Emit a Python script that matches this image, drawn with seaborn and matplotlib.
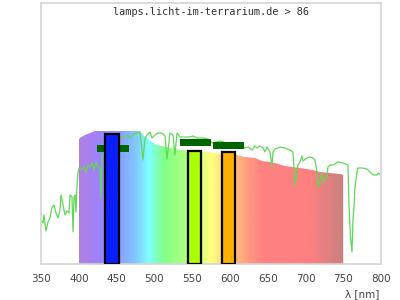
import numpy as np
import pandas as pd
import matplotlib
matplotlib.use("Agg")
import matplotlib.pyplot as plt
from matplotlib.colors import LinearSegmentedColormap
from matplotlib.patches import Polygon
import seaborn as sns

# ---- data ----
sun_nm = [350, 352.6, 354, 356.6, 359.3, 361.9, 364.6, 367.2, 369.9, 372.5, 375.1, 376.5,
          379.1, 381.8, 384.4, 387.1, 388.4, 391, 392.4, 393.7, 395, 396.3, 397.6, 399,
          400.3, 402.9, 406.9, 409.6, 412.2, 414.9, 417.5, 420.1, 422.8, 425.4, 428.1,
          429.4, 430.7, 440, 450, 455.9, 459.8, 463.8, 467.8, 471.8, 477, 481, 485,
          487.6, 490.3, 494.3, 496.9, 500.9, 504.8, 510.1, 514.1, 516.8, 520.7, 524.7,
          527.3, 530, 534, 537.9, 543.2, 547.2, 551.2, 556.5, 560.4, 564.4, 571, 573.7,
          577.6, 586.9, 600.1, 617.3, 620, 624, 629.3, 633.2, 635.9, 639.8, 643.8, 646.5,
          649.1, 653.1, 655.7, 657, 659.7, 663.7, 666.3, 672.9, 679.5, 683.5, 686.2,
          688.8, 690.1, 692.8, 695.4, 696.7, 702, 706, 710, 712.6, 715.3, 716.6, 719.2,
          721.9, 723.2, 725.9, 728.5, 729.8, 732.5, 736.5, 743.1, 749.7, 756.3, 757.6,
          759.6, 761.6, 762.9, 764.2, 765.6, 768.2, 769.5, 774.8, 781.4, 785.4, 789.4,
          794.7, 796, 798.7]
sun_val = [44, 41, 49, 33, 42, 46, 57, 59, 51, 46, 54, 69,
           59, 49, 53, 51, 69, 67, 32, 67, 69, 52, 77, 91,
           96, 94, 97, 92, 99, 97, 101, 94, 102, 97, 96,
           66, 109, 115, 120, 127, 126, 129, 126, 129, 131, 132, 104,
           125, 129, 132, 126, 129, 131, 131, 128, 105, 131, 129,
           109, 131, 127, 127, 127, 127, 128, 126, 126, 126, 125, 123,
           121, 123, 120, 117, 116, 117, 114, 118, 116, 118, 116, 112,
           117, 112, 97, 112, 115, 116, 117, 116, 114, 112, 79,
           92, 99, 102, 108, 103, 106, 107, 106, 104, 92, 77, 84,
           91, 81, 86, 87, 97, 99, 99, 102, 101, 99, 59,
           27, 12, 44, 57, 77, 92, 96, 96, 95, 92, 89,
           89, 91, 90]

lamp_nm = [400, 401.6, 408.2, 414.9, 421.5, 481, 485, 490.3, 494.3, 498.2, 507.5,
           516.8, 520.7, 534, 560.4, 580.3, 609.4, 620, 633.2, 642.5, 653, 659.7,
           672.9, 692.8, 710, 719.2, 732.5, 745.7, 750]
lamp_val = [124, 126, 129, 131, 133, 133, 129, 126, 124, 121, 118,
            117, 116, 114, 113, 111, 109, 107, 106, 103, 102, 101,
            98, 96, 94, 92, 91, 90, 89]

band_left = [434.7, 544.2, 589.2]
band_right = [453.2, 562.2, 607.2]
band_value = [130, 113.3, 112.3]
band_colors = ["#0a1eff", "#aaff00", "#ffb000"]

mark_left = [423.7, 534.0, 577.6]
mark_right = [466.4, 574.5, 618.3]
mark_level = [115.7, 121.7, 118.7]

xticks = [350, 400, 450, 500, 550, 600, 650, 700, 750, 800]
title = "lamps.licht-im-terrarium.de > 86"
xlabel = "λ [nm]"

# ---- plot ----
sns.set_style("white")
plt.rcParams['font.family'] = ['DejaVu Sans']
fig = plt.figure(figsize=(4, 3), dpi=100)
ax = fig.add_axes([41/400, 36/300, 340/400, 261/300])
ax.set_xlim(350, 800)
ax.set_ylim(0, 261)

# spectral gradient fill clipped to lamp curve
stops = [(400, "#b080e0"), (425, "#a080ff"), (450, "#8c98ff"), (475, "#80c8ff"),
         (492, "#80ffff"), (512, "#80ff88"), (545, "#b4ff80"), (575, "#ffff80"),
         (600, "#ffc880"), (625, "#ff9880"), (645, "#ff8080"), (705, "#ff8080"),
         (750, "#c88080")]
cmap = LinearSegmentedColormap.from_list(
    "spec", [((w - 400) / 350, c) for w, c in stops])
grad = np.linspace(0, 1, 512).reshape(1, -1)
im = ax.imshow(grad, cmap=cmap, aspect="auto", extent=[400, 750, 0, 140],
               origin="lower", zorder=1, interpolation="bilinear")
verts = [(lamp_nm[0], 0)] + list(zip(lamp_nm, lamp_val)) + [(lamp_nm[-1], 0)]
poly = Polygon(verts, closed=True, facecolor="none", edgecolor="none",
               transform=ax.transData)
ax.add_patch(poly)
im.set_clip_path(poly)

sun = pd.DataFrame({"nm": sun_nm, "val": sun_val})
sns.lineplot(data=sun, x="nm", y="val", ax=ax, color="#5fd957", lw=0.9,
             estimator=None, sort=False, zorder=2)

for l, r, lv in zip(mark_left, mark_right, mark_level):
    ax.bar((l + r) / 2, 6.7, width=r - l, bottom=lv - 3.35, color="#006400",
           linewidth=0, zorder=3)

for l, r, v, c in zip(band_left, band_right, band_value, band_colors):
    ax.bar((l + r) / 2, v, width=r - l, color=c, edgecolor="black",
           linewidth=1.6, zorder=4)

ax.set_xticks(xticks)
ax.set_xticklabels([str(t) for t in xticks], fontsize=7.5, color="#444444")
ax.tick_params(axis="x", length=0, pad=7)
ax.set_yticks([])
ax.set_xlabel("")
ax.set_ylabel("")
for s in ax.spines.values():
    s.set_color("#d4d4d4")
    s.set_linewidth(1.2)

ax.text(0.5, 0.965, title, transform=ax.transAxes, ha="center", va="center",
        fontsize=7.4, family="DejaVu Sans Mono", color="#333333", zorder=5)
fig.text(379/400, 1 - 294/300, xlabel, ha="right", va="center", fontsize=7.5,
         color="#444444")

fig.savefig("out.png", dpi=100)
